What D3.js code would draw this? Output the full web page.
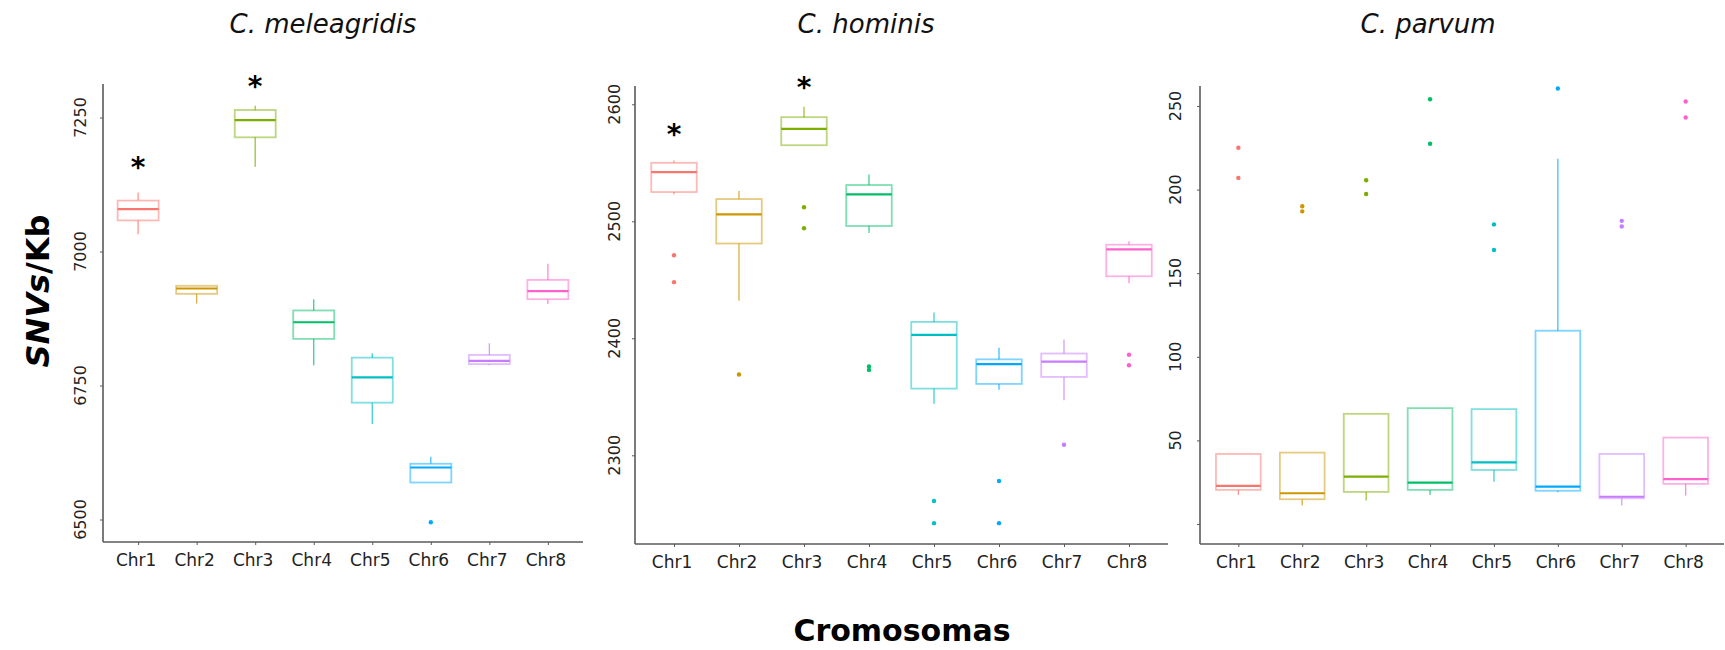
<!DOCTYPE html>
<html>
<head>
<meta charset="utf-8">
<script src="https://cdn.jsdelivr.net/npm/d3@7"></script>
<style>
  html, body { margin: 0; padding: 0; background: #fff; }
  svg { display: block; font-family: "DejaVu Sans", Verdana, sans-serif; }
</style>
</head>
<body>
<svg id="chart" width="1725" height="650"></svg>
<script>
// Chromosome categories shared by all three species
const chromosomes = ["Chr1", "Chr2", "Chr3", "Chr4", "Chr5", "Chr6", "Chr7", "Chr8"];
const chrColors = ["#F8766D", "#CD9600", "#7CAE00", "#00BE67", "#00BFC4", "#00A9FF", "#C77CFF", "#FF61CC"];

// Box statistics per chromosome: [lower whisker, Q1, median, Q3, upper whisker]
const meleagridisStats = [
  [7032, 7058, 7079, 7095, 7110],
  [6903, 6921, 6931, 6936, 6936],
  [7158, 7213, 7245, 7264, 7272],
  [6788, 6837, 6868, 6890, 6911],
  [6678, 6718, 6765, 6802, 6810],
  [6569, 6569, 6597, 6604, 6617],
  [6788, 6790, 6796, 6807, 6829],
  [6902, 6911, 6926, 6947, 6977]
];
const meleagridisOutliers = [[], [], [], [], [], [6495], [], []];
const meleagridisTicks = [6500, 6750, 7000, 7250];
const meleagridisStars = ["Chr1", "Chr3"];
const meleagridisStarLevels = [7171, 7321];

const hominisStats = [
  [2523, 2525, 2542, 2550, 2552],
  [2432, 2481, 2506, 2519, 2526],
  [2565, 2565, 2579, 2589, 2598],
  [2490, 2496, 2523, 2531, 2540],
  [2344, 2357, 2403, 2414, 2422],
  [2356, 2361, 2378, 2382, 2392],
  [2347, 2367, 2380, 2387, 2399],
  [2447, 2453, 2476, 2480, 2483]
];
const hominisOutliers = [[2471, 2448], [2369], [2512, 2494], [2376, 2373], [2261, 2242], [2278, 2242], [2309], [2386, 2377]];
const hominisTicks = [2300, 2400, 2500, 2600];
const hominisStars = ["Chr1", "Chr3"];
const hominisStarLevels = [2581, 2621];

const parvumStats = [
  [17.4, 20.4, 22.8, 41.9, 41.9],
  [11.0, 14.8, 18.4, 42.7, 42.7],
  [14.0, 19.2, 28.3, 65.9, 65.9],
  [17.4, 20.4, 24.7, 69.3, 69.3],
  [25.3, 32.3, 36.9, 68.7, 68.7],
  [19.0, 19.9, 22.3, 115.6, 218.4],
  [11.0, 15.4, 16.3, 41.9, 41.9],
  [17.0, 24.0, 26.8, 51.7, 51.7]
];
const parvumOutliers = [[225, 207], [190, 187], [205.6, 197.4], [254, 227.4], [179.2, 163.9], [260.5], [181.3, 178], [252.7, 243.1]];
const parvumTicks = [0, 50, 100, 150, 200, 250];
const parvumTickLabels = ["", "50", "100", "150", "200", "250"];

const svg = d3.select("#chart");

// Panel geometry (pixel frame of each facet)
const panels = [
  { title: "C. meleagridis", titleX: 323, stats: meleagridisStats, outliers: meleagridisOutliers,
    ticks: meleagridisTicks, tickLabels: meleagridisTicks.map(String),
    stars: meleagridisStars, starLevels: meleagridisStarLevels, labelGap: 17,
    left: 103, right: 583, top: 84, bottom: 542, domain: [6500, 7250], range: [519.5, 117.5] },
  { title: "C. hominis", titleX: 866, stats: hominisStats, outliers: hominisOutliers,
    ticks: hominisTicks, tickLabels: hominisTicks.map(String),
    stars: hominisStars, starLevels: hominisStarLevels, labelGap: 15,
    left: 635, right: 1168, top: 86, bottom: 544, domain: [2300, 2600], range: [455.3, 104.3] },
  { title: "C. parvum", titleX: 1428, stats: parvumStats, outliers: parvumOutliers,
    ticks: parvumTicks, tickLabels: parvumTickLabels,
    stars: [], starLevels: [], labelGap: 19,
    left: 1200, right: 1724, top: 86, bottom: 544, domain: [0, 250], range: [524, 106] }
];

const axisColor = "#5a5a5a";

panels.forEach(p => {
  const x = d3.scalePoint().domain(chromosomes).range([p.left, p.right]).padding(0.6);
  const y = d3.scaleLinear().domain(p.domain).range(p.range);
  const boxW = x.step() * 0.7;
  const g = svg.append("g");

  // Facet title
  svg.append("text")
    .attr("x", p.titleX).attr("y", 33)
    .attr("text-anchor", "middle")
    .attr("font-size", 26).attr("font-style", "italic")
    .attr("fill", "#111")
    .text(p.title);

  // Y axis
  const yAxis = d3.axisLeft(y).tickValues(p.ticks).tickSize(3).tickFormat(() => "");
  const ya = g.append("g").attr("transform", `translate(${p.left},0)`).call(yAxis);
  ya.select(".domain").remove();
  ya.selectAll(".tick line").attr("stroke", axisColor).attr("stroke-width", 1);
  g.append("line")
    .attr("x1", p.left).attr("x2", p.left).attr("y1", p.top).attr("y2", p.bottom)
    .attr("stroke", axisColor).attr("stroke-width", 1.6);

  // Rotated tick labels
  g.selectAll(".ylab").data(p.ticks).enter().append("text")
    .attr("transform", (d) => `translate(${p.left - p.labelGap},${y(d)}) rotate(-90)`)
    .attr("text-anchor", "middle")
    .attr("font-size", 16).attr("fill", "#222")
    .text((d, i) => p.tickLabels[i]);

  // X axis
  const xAxis = d3.axisBottom(x).tickSize(3).tickFormat(() => "");
  const xa = g.append("g").attr("transform", `translate(0,${p.bottom})`).call(xAxis);
  xa.select(".domain").remove();
  xa.selectAll(".tick line").attr("stroke", axisColor).attr("stroke-width", 1);
  g.append("line")
    .attr("x1", p.left).attr("x2", p.right).attr("y1", p.bottom).attr("y2", p.bottom)
    .attr("stroke", axisColor).attr("stroke-width", 1.6);

  g.selectAll(".xlab").data(chromosomes).enter().append("text")
    .attr("x", d => x(d) - 2).attr("y", p.bottom + 24)
    .attr("text-anchor", "middle")
    .attr("font-size", 17).attr("fill", "#222")
    .text(d => d);

  // Boxes
  const boxes = g.selectAll(".box").data(p.stats).enter().append("g");
  boxes.each(function (s, i) {
    const b = d3.select(this);
    const cx = x(chromosomes[i]);
    const col = chrColors[i];
    // whiskers
    b.append("line").attr("x1", cx).attr("x2", cx).attr("y1", y(s[4])).attr("y2", y(s[3]))
      .attr("stroke", col).attr("stroke-width", 1.3).attr("stroke-opacity", 0.75);
    b.append("line").attr("x1", cx).attr("x2", cx).attr("y1", y(s[1])).attr("y2", y(s[0]))
      .attr("stroke", col).attr("stroke-width", 1.3).attr("stroke-opacity", 0.75);
    // box
    b.append("rect")
      .attr("x", cx - boxW / 2).attr("width", boxW)
      .attr("y", y(s[3])).attr("height", Math.max(0.5, y(s[1]) - y(s[3])))
      .attr("fill", "none").attr("stroke", col).attr("stroke-width", 1.8).attr("stroke-opacity", 0.5);
    // median
    b.append("line")
      .attr("x1", cx - boxW / 2).attr("x2", cx + boxW / 2)
      .attr("y1", y(s[2])).attr("y2", y(s[2]))
      .attr("stroke", col).attr("stroke-width", 2.2);
    // outliers
    b.selectAll("circle").data(p.outliers[i]).enter().append("circle")
      .attr("cx", cx).attr("cy", v => y(v)).attr("r", 2.2)
      .attr("fill", col);
  });

  // Significance markers
  g.selectAll(".star").data(p.stars).enter().append("text")
    .attr("x", d => x(d)).attr("y", (d, i) => y(p.starLevels[i]) + 17)
    .attr("text-anchor", "middle")
    .attr("font-size", 28).attr("font-weight", "bold").attr("fill", "#000")
    .text("*");
});

// Shared axis titles
const yTitle = svg.append("text")
  .attr("transform", "translate(49,291) rotate(-90)")
  .attr("text-anchor", "middle")
  .attr("font-size", 32).attr("font-weight", "bold").attr("fill", "#000");
yTitle.append("tspan").attr("font-style", "italic").text("SNVs");
yTitle.append("tspan").text("/Kb");

svg.append("text")
  .attr("x", 902).attr("y", 641)
  .attr("text-anchor", "middle")
  .attr("font-size", 30).attr("font-weight", "bold").attr("fill", "#000")
  .text("Cromosomas");
</script>
</body>
</html>
